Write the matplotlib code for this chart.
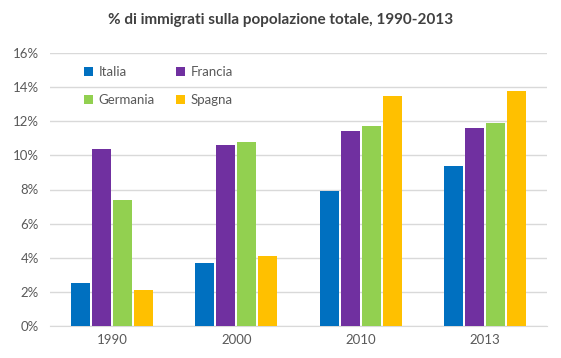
import numpy as np
import matplotlib
matplotlib.use("Agg")
import matplotlib.pyplot as plt
from matplotlib.ticker import PercentFormatter

# Data (% of total population)
years    = ["1990", "2000", "2010", "2013"]
italia   = [2.5, 3.7, 7.9, 9.4]
francia  = [10.4, 10.6, 11.4, 11.6]
germania = [7.4, 10.8, 11.7, 11.9]
spagna   = [2.1, 4.1, 13.5, 13.8]

series = [("Italia", italia, "#0070C0"),
          ("Francia", francia, "#7030A0"),
          ("Germania", germania, "#92D050"),
          ("Spagna", spagna, "#FFC000")]

plt.rcParams["font.family"] = ["Lato", "DejaVu Sans"]

fig = plt.figure(figsize=(5.61, 3.58), dpi=100)
ax = fig.add_axes([50 / 561, 32 / 358, 497 / 561, 273 / 358])

x = np.arange(len(years))
bw = 0.153
step = 0.169
bars = []
for i, (name, vals, col) in enumerate(series):
    b = ax.bar(x + (i - 1.5) * step, vals, width=bw, color=col, label=name, zorder=3)
    bars.append(b)

ax.set_xlim(-0.5, len(years) - 0.5)
ax.set_ylim(0, 16)
ax.set_yticks(np.arange(0, 17, 2))
ax.yaxis.set_major_formatter(PercentFormatter(decimals=0))
ax.set_xticks(x)
ax.set_xticklabels(years)

ax.grid(axis="y", color="#D9D9D9", linewidth=1, zorder=0)
for s in ["top", "right", "left"]:
    ax.spines[s].set_visible(False)
ax.spines["bottom"].set_color("#D9D9D9")
ax.tick_params(axis="both", length=0, colors="#595959", labelsize=9.5)
ax.tick_params(axis="y", pad=8)
ax.tick_params(axis="x", pad=6)

# legend fills column-wise, so reorder to get rows Italia/Francia, Germania/Spagna
order = [0, 2, 1, 3]
ax.legend([bars[i] for i in order], [series[i][0] for i in order],
          ncol=2, loc="upper left", bbox_to_anchor=(0.045, 0.995), frameon=False,
          fontsize=9.5, handlelength=0.7, handleheight=0.7, handletextpad=0.4,
          columnspacing=1.6, labelspacing=1.2, labelcolor="#595959")

fig.text(0.5, 0.945, "% di immigrati sulla popolazione totale, 1990-2013",
         ha="center", va="center", fontsize=11, fontweight="bold", color="#404040")

fig.savefig("out.png", dpi=100)
